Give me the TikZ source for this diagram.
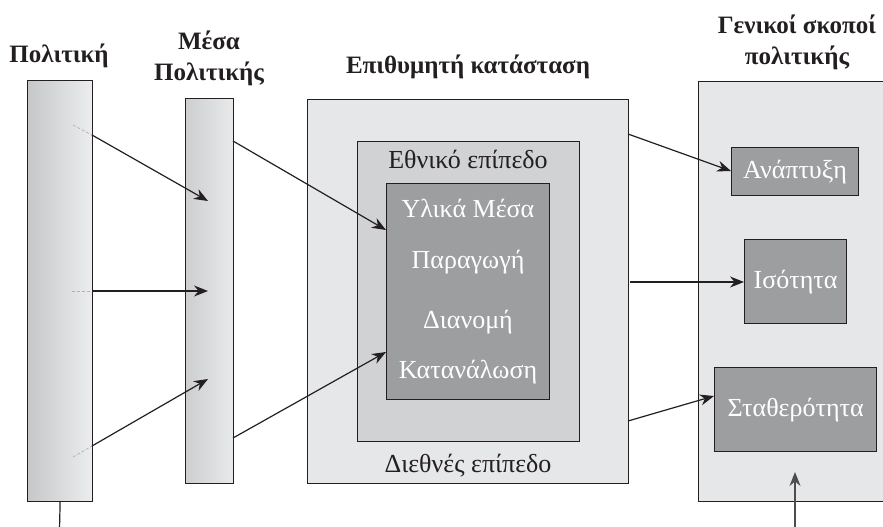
\documentclass[tikz,border=0pt]{standalone}
\usepackage{fontspec}
\setmainfont{Liberation Serif}
\usetikzlibrary{arrows.meta,calc}
\definecolor{ink}{HTML}{231F20}
\definecolor{outerfill}{HTML}{E6E7E8}
\definecolor{midfill}{HTML}{D1D2D4}
\definecolor{innerfill}{HTML}{9D9EA0}
\definecolor{barL}{HTML}{C6C7C9}
\definecolor{barR}{HTML}{ECEDEE}
\definecolor{mbarL}{HTML}{CDCED0}
\definecolor{mbarM}{HTML}{E0E1E2}
\definecolor{mbarR}{HTML}{E9EAEB}
\begin{document}
\begin{tikzpicture}[x=1pt,y=-1pt,
  frame/.style={draw=ink, line width=1.2pt, inner sep=0pt, anchor=north west},
  arr/.style={draw=ink, line width=1.2pt, -{Stealth[length=14pt,width=11pt]}},
  ghost/.style={draw=gray!60, line width=0.7pt, dash pattern=on 3pt off 2pt},
  head/.style={font=\bfseries\fontsize{25}{31}\selectfont, text=ink, align=center, inner sep=0pt},
  lab/.style={font=\fontsize{26}{28}\selectfont, inner sep=0pt},
  whitelab/.style={lab, text=white},
]
\useasboundingbox (0,0) rectangle (883,527);
% bars
\node[frame, left color=barL, right color=barR, minimum width=65pt, minimum height=421pt] (pol) at (27,80) {};
\node[frame, left color=mbarL, middle color=mbarM, right color=mbarR, minimum width=48pt, minimum height=385pt] (mesa) at (185,98) {};
% nested boxes
\node[frame, fill=outerfill, minimum width=321pt, minimum height=384pt] (outer) at (307,99) {};
\node[frame, fill=midfill, minimum width=222pt, minimum height=300pt] (mid) at (357,141) {};
\node[frame, fill=innerfill, minimum width=163pt, minimum height=216pt] (inner) at (386,183) {};
% goals
\node[frame, fill=outerfill, minimum width=200pt, minimum height=420pt] (goals) at (698,81) {};
\node[frame, fill=innerfill, minimum width=127pt, minimum height=48pt, whitelab] (anap) at (731,147) {Ανάπτυξη};
\node[frame, fill=innerfill, minimum width=102pt, minimum height=84pt, whitelab] (isot) at (744,239) {Ισότητα};
\node[frame, fill=innerfill, minimum width=162pt, minimum height=84pt, whitelab] (stath) at (714,367) {Σταθερότητα};
% headings
\node[head, anchor=base] (hpol) at (59,63) {Πολιτική};
\node[head] (hmesa) at (209,58) {Μέσα\\Πολιτικής};
\node[head, anchor=base] (hepi) at (468,74) {Επιθυμητή κατάσταση};
\node[head] (hgoal) at (797,42) {Γενικοί σκοποί\\πολιτικής};
% box texts
\node[lab, text=ink, anchor=base] (tethn) at (468,168) {Εθνικό επίπεδο};
\node[lab, text=ink, anchor=base] (tdieth) at (468,472) {Διεθνές επίπεδο};
\node[whitelab, anchor=base] (t1) at (468,217) {Υλικά Μέσα};
\node[whitelab, anchor=base] (t2) at (468,268) {Παραγωγή};
\node[whitelab, anchor=base] (t3) at (468,328) {Διανομή};
\node[whitelab, anchor=base] (t4) at (468,378) {Κατανάλωση};
% connector points
\coordinate (g1) at (73,125);
\coordinate (p1) at (92,135);
\coordinate (m1) at (208,201);
\coordinate (g2) at (72,291);
\coordinate (p2) at (92,291);
\coordinate (m2) at (208,291);
\coordinate (g3) at (73,457);
\coordinate (p3) at (92,446);
\coordinate (m3) at (208,379);
\coordinate (q1) at (233,141);
\coordinate (i1) at (386,230);
\coordinate (q2) at (233,438);
\coordinate (i2) at (386,352);
\coordinate (o1) at (628,134);
\coordinate (o2) at (630,282);
\coordinate (o3) at (628,421);
\coordinate (a1) at (731,171);
\coordinate (a2) at (744,282);
\coordinate (a3) at (714,396);
\coordinate (polbot) at (59.5,530);
\coordinate (goalbot) at (795,530);
\coordinate (goalin) at (795,472);
% connectors
\draw[ghost] (g1) -- (p1);
\draw[ghost] (g2) -- (p2);
\draw[ghost] (g3) -- (p3);
\draw[arr] (p1) -- (m1);
\draw[arr] (p2) -- (m2);
\draw[arr] (p3) -- (m3);
\draw[arr] (q1) -- (i1);
\draw[arr] (q2) -- (i2);
\draw[arr] (o1) -- (a1);
\draw[arr] (o2) -- (a2);
\draw[arr] (o3) -- (a3);
\draw[draw=ink, line width=1.2pt] (pol.south) -- (polbot);
\draw[arr, draw=ink!80] (goalbot) -- (goalin);
\end{tikzpicture}
\end{document}
